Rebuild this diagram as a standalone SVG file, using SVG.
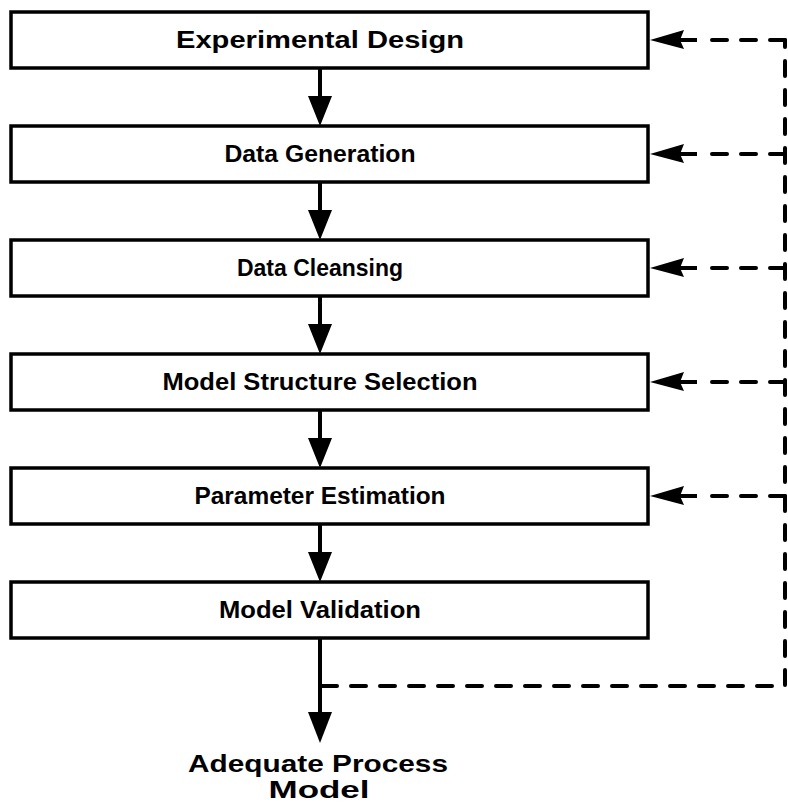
<svg xmlns="http://www.w3.org/2000/svg" width="788" height="804" viewBox="0 0 788 804">
  <style>
    .box rect { fill: #fff; stroke: #000; stroke-width: 3.5; }
    .box text, .out text { font-family: "Liberation Sans", "DejaVu Sans", sans-serif; font-weight: bold; font-size: 24px; fill: #000; text-anchor: middle; }
    .flow { stroke: #000; stroke-width: 4; fill: none; }
    .dash { stroke: #000; stroke-width: 4; fill: none; stroke-dasharray: 15 14; stroke-linecap: round; }
    .head { fill: #000; }
  </style>
  <rect width="788" height="804" fill="#fff"/>

  <g id="connectors">
    <!-- forward flow arrows between steps -->
    <line class="flow" x1="320" y1="68" x2="320" y2="100"/>
    <polygon class="head" points="308,96 332,96 320,126"/>
    <line class="flow" x1="320" y1="182" x2="320" y2="214"/>
    <polygon class="head" points="308,210 332,210 320,240"/>
    <line class="flow" x1="320" y1="296" x2="320" y2="328"/>
    <polygon class="head" points="308,324 332,324 320,354"/>
    <line class="flow" x1="320" y1="410" x2="320" y2="442"/>
    <polygon class="head" points="308,438 332,438 320,468"/>
    <line class="flow" x1="320" y1="524" x2="320" y2="556"/>
    <polygon class="head" points="308,552 332,552 320,582"/>
    <line class="flow" x1="320" y1="638" x2="320" y2="716"/>
    <polygon class="head" points="308,712 332,712 320,743"/>

    <!-- feedback loop (dashed) -->
    <path class="dash" d="M322,686 H785 V40"/>
    <line class="dash" x1="785" y1="40" x2="707" y2="40"/>
    <line class="dash" x1="785" y1="154" x2="707" y2="154"/>
    <line class="dash" x1="785" y1="268" x2="707" y2="268"/>
    <line class="dash" x1="785" y1="382" x2="707" y2="382"/>
    <line class="dash" x1="785" y1="496" x2="707" y2="496"/>
    <g class="head">
      <polygon points="650,40 684,30 680,40 684,49"/>
      <polygon points="650,154 684,144 680,154 684,163"/>
      <polygon points="650,268 684,258 680,268 684,277"/>
      <polygon points="650,382 684,372 680,382 684,391"/>
      <polygon points="650,496 684,486 680,496 684,505"/>
    </g>
    <line class="flow" x1="680" y1="40" x2="697" y2="40"/>
    <line class="flow" x1="680" y1="154" x2="697" y2="154"/>
    <line class="flow" x1="680" y1="268" x2="697" y2="268"/>
    <line class="flow" x1="680" y1="382" x2="697" y2="382"/>
    <line class="flow" x1="680" y1="496" x2="697" y2="496"/>
  </g>

  <g id="experimental-design" class="box">
    <rect x="11" y="12" width="637" height="56"/>
    <text x="320" y="48" textLength="288" lengthAdjust="spacingAndGlyphs">Experimental Design</text>
  </g>
  <g id="data-generation" class="box">
    <rect x="11" y="126" width="637" height="56"/>
    <text x="320" y="162" textLength="191" lengthAdjust="spacingAndGlyphs">Data Generation</text>
  </g>
  <g id="data-cleansing" class="box">
    <rect x="11" y="240" width="637" height="56"/>
    <text x="320" y="276" textLength="166" lengthAdjust="spacingAndGlyphs">Data Cleansing</text>
  </g>
  <g id="model-structure-selection" class="box">
    <rect x="11" y="354" width="637" height="56"/>
    <text x="320" y="390" textLength="315" lengthAdjust="spacingAndGlyphs">Model Structure Selection</text>
  </g>
  <g id="parameter-estimation" class="box">
    <rect x="11" y="468" width="637" height="56"/>
    <text x="320" y="504" textLength="251" lengthAdjust="spacingAndGlyphs">Parameter Estimation</text>
  </g>
  <g id="model-validation" class="box">
    <rect x="11" y="582" width="637" height="56"/>
    <text x="320" y="618" textLength="202" lengthAdjust="spacingAndGlyphs">Model Validation</text>
  </g>

  <g id="adequate-process-model" class="out">
    <text x="318" y="772" textLength="260" lengthAdjust="spacingAndGlyphs">Adequate Process</text>
    <text x="319" y="798" textLength="101" lengthAdjust="spacingAndGlyphs">Model</text>
  </g>
</svg>
